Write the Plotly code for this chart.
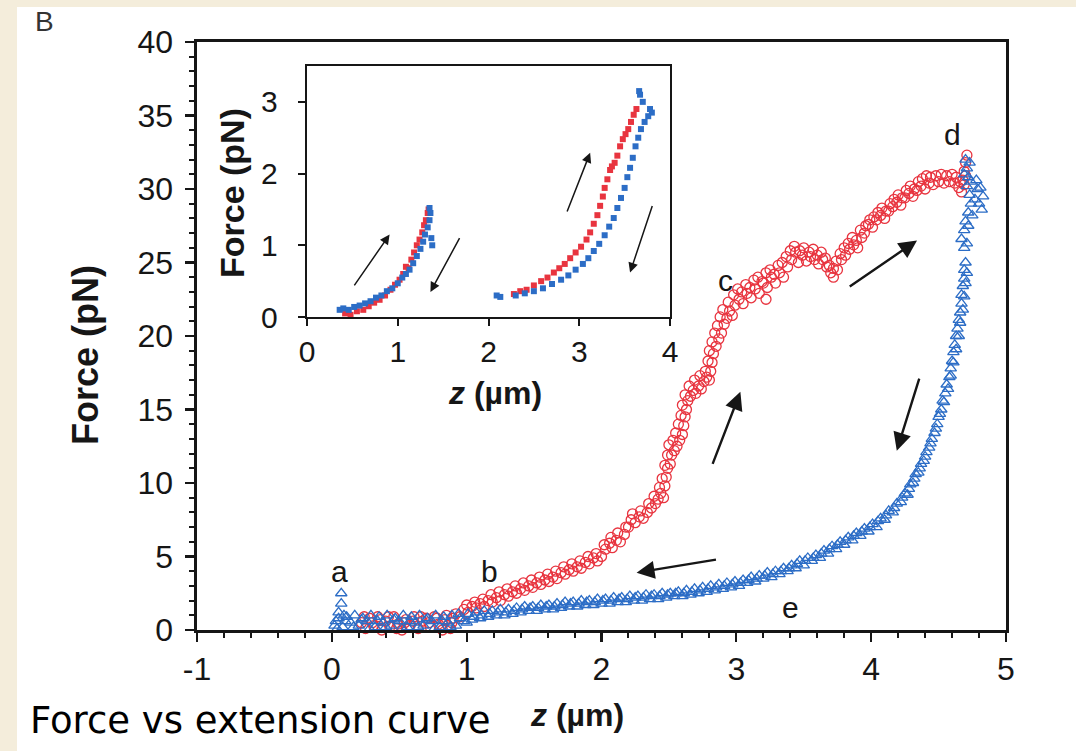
import plotly.graph_objects as go

# ---------------- data ----------------
# main panel: pulling (red circles) and relaxing (blue triangles); z (um) vs force (pN)
PULL = [(0.22,0.5),(0.25,0.1),(0.28,0.8),(0.31,0.3),(0.34,0.9),(0.37,0.0),(0.40,0.6),(0.43,0.2),(0.46,0.9),
        (0.49,0.4),(0.52,0.0),(0.55,0.7),(0.58,0.3),(0.61,0.9),(0.64,0.1),(0.67,0.6),(0.70,0.8),(0.73,0.2),
        (0.76,0.9),(0.79,0.4),(0.82,0.0),(0.84,0.7),(0.86,0.3),(0.88,0.1),(0.90,0.8),(0.92,1.1),(0.95,0.9),
        (0.98,1.4),(1.01,1.2),(1.04,1.6),(1.07,1.5),(1.10,1.8),(1.13,1.6),(1.16,2.0),(1.19,1.9),(1.22,2.2),
        (1.25,2.0),(1.28,2.4),(1.31,2.3),(1.34,2.6),(1.37,2.5),(1.40,2.8),(1.43,2.7),(1.46,3.0),(1.49,2.9),
        (1.52,3.2),(1.55,3.1),(1.58,3.4),(1.61,3.3),(1.64,3.6),(1.67,3.5),(1.70,3.9),(1.73,3.8),(1.76,4.1),
        (1.79,4.0),(1.82,4.3),(1.85,4.2),(1.88,4.6),(1.91,4.5),(1.94,4.9),(1.97,4.7),(2.00,5.0),(2.03,5.5),
        (2.06,5.9),(2.08,5.6),(2.11,6.1),(2.14,6.0),(2.17,6.5),(2.20,7.0),(2.22,7.5),(2.25,7.3),(2.28,7.7),
        (2.31,7.6),(2.34,8.0),(2.37,8.3),(2.40,8.6),(2.42,8.9),(2.44,9.3),(2.46,9.0),(2.47,9.8),(2.48,10.4),
        (2.49,11.0),(2.51,11.3),(2.52,11.9),(2.54,12.2),(2.56,12.5),(2.58,12.9),(2.60,13.3),(2.61,13.9),
        (2.62,14.5),(2.63,15.0),(2.64,15.6),(2.66,15.9),(2.68,16.3),(2.70,16.1),(2.72,16.6),(2.74,16.4),
        (2.76,16.9),(2.78,17.2),(2.80,17.0),(2.81,17.6),(2.82,18.2),(2.83,18.8),(2.85,19.3),(2.87,19.8),
        (2.89,20.2),(2.91,20.8),(2.93,21.2),(2.95,21.7),(2.97,21.4),(2.99,22.1),(3.02,22.5),(3.05,22.2),
        (3.08,22.9),(3.11,22.6),(3.14,23.2),(3.17,22.9),(3.20,23.6),(3.23,23.3),(3.22,22.5),(3.26,24.0),
        (3.29,23.6),(3.32,24.3),(3.35,24.0),(3.38,24.7),(3.41,25.2),(3.44,25.7),(3.46,25.0),(3.49,25.5),
        (3.52,25.1),(3.55,25.4),(3.58,25.2),(3.61,24.9),(3.64,25.2),(3.67,24.7),(3.70,24.3),(3.72,24.6),
        (3.74,25.1),(3.77,25.6),(3.80,26.0),(3.83,26.3),(3.86,26.7),(3.89,26.5),(3.92,27.2),(3.95,27.0),
        (3.98,27.6),(4.01,27.4),(4.04,27.9),(4.07,28.2),(4.10,28.0),(4.13,28.5),(4.16,28.8),(4.19,29.1),
        (4.22,28.9),(4.25,29.4),(4.28,29.7),(4.31,29.5),(4.34,29.9),(4.37,30.2),(4.40,30.0),(4.43,30.4),
        (4.46,30.3),(4.50,30.5),(4.54,30.4),(4.58,30.5),(4.62,30.4),(4.65,30.1),(4.67,29.8),(4.68,30.6),
        (4.69,31.2),(4.70,31.8),(4.71,32.3)]
PULL_REPEAT = [(0.24,0.9),(0.30,0.5),(0.36,0.7),(0.42,0.9),(0.48,0.1),(0.54,0.5),(0.60,0.6),(0.66,0.9),
               (0.72,0.5),(0.78,0.8),(0.85,1.0),(0.89,0.5),(1.00,1.7),(1.06,1.9),(1.12,2.1),(1.18,2.4),
               (1.24,2.6),(1.30,2.8),(1.36,3.0),(1.42,3.2),(1.48,3.4),(1.54,3.6),(1.60,3.8),(1.66,4.0),
               (1.72,4.3),(1.78,4.5),(1.84,4.7),(1.90,5.0),(1.96,5.2),(2.02,5.8),(2.07,6.3),(2.12,6.6),
               (2.18,7.0),(2.23,7.9),(2.29,8.1),(2.35,8.6),(2.39,9.1),(2.43,9.7),(2.45,10.3),(2.47,11.2),
               (2.49,11.9),(2.50,12.6),(2.53,12.9),(2.55,13.4),(2.57,14.0),(2.59,14.6),(2.60,15.3),(2.62,16.0),
               (2.65,16.6),(2.69,17.0),(2.73,17.3),(2.77,17.6),(2.79,18.3),(2.80,19.0),(2.82,19.6),(2.84,20.2),
               (2.86,20.7),(2.88,21.3),(2.90,21.8),(2.94,22.3),(2.98,22.8),(3.01,23.2),(3.04,23.0),(3.07,23.5),
               (3.10,23.3),(3.13,23.8),(3.16,24.0),(3.19,23.7),(3.22,24.3),(3.25,24.5),(3.28,24.2),(3.31,24.8),
               (3.34,25.0),(3.37,25.4),(3.40,25.8),(3.43,26.1),(3.47,25.8),(3.50,26.0),(3.54,25.7),(3.57,25.9),
               (3.60,25.5),(3.63,25.7),(3.66,25.3),(3.69,24.8),(3.72,24.0),(3.75,24.5),(3.78,25.2),(3.81,25.5),
               (3.84,25.9),(3.87,26.2),(3.90,26.0),(3.93,26.7),(3.96,27.5),(3.99,27.9),(4.02,28.1),(4.05,28.4),
               (4.08,28.7),(4.11,28.5),(4.14,29.0),(4.17,29.3),(4.20,29.6),(4.23,29.4),(4.26,29.9),(4.29,30.2),
               (4.32,30.0),(4.35,30.5),(4.38,30.7),(4.41,30.9),(4.44,30.8),(4.48,30.9),(4.52,31.0),(4.56,30.9),
               (4.60,31.0),(4.63,30.8),(4.66,30.5),(4.69,30.3),(4.70,30.9)]

RELAX = [(0.03,0.6),(0.05,1.2),(0.07,1.8),(0.07,2.5),(0.09,1.0),
         (0.02,0.3),(0.05,0.8),(0.08,0.2),(0.11,0.9),(0.14,0.5),(0.17,1.0),(0.20,0.3),(0.23,0.8),(0.26,0.6),
         (0.29,1.0),(0.32,0.2),(0.35,0.9),(0.38,0.5),(0.41,1.0),(0.44,0.3),(0.47,0.8),(0.50,0.6),(0.53,1.0),
         (0.56,0.2),(0.59,0.9),(0.62,0.5),(0.65,1.0),(0.68,0.3),(0.71,0.8),(0.74,0.6),(0.77,1.0),(0.80,0.2),
         (0.83,0.9),(0.86,0.5),(0.89,1.0),(0.92,0.3),(0.95,0.8),(0.98,0.6),(1.01,1.1),(1.04,0.7),(1.07,1.2),
         (1.10,0.8),(1.13,1.3),(1.16,0.9),(1.19,1.3),(1.22,1.0),(1.25,1.4),(1.28,1.0),(1.31,1.4),(1.34,1.1),
         (1.37,1.5),(1.40,1.2),(1.43,1.6),(1.46,1.3),(1.49,1.6),(1.52,1.3),(1.55,1.7),(1.58,1.4),(1.61,1.7),
         (1.64,1.4),(1.67,1.8),(1.70,1.5),(1.73,1.9),(1.76,1.6),(1.79,1.9),(1.82,1.6),(1.85,2.0),(1.88,1.7),
         (1.91,2.0),(1.94,1.7),(1.97,2.1),(2.00,1.8),(2.03,2.1),(2.06,1.8),(2.09,2.2),(2.12,1.9),(2.15,2.2),
         (2.18,1.9),(2.21,2.3),(2.24,2.0),(2.27,2.3),(2.30,2.0),(2.33,2.4),(2.36,2.1),(2.39,2.4),(2.42,2.1),
         (2.45,2.5),(2.48,2.2),(2.51,2.5),(2.54,2.3),(2.57,2.6),(2.60,2.3),(2.63,2.7),(2.66,2.4),(2.69,2.8),
         (2.72,2.5),(2.75,2.9),(2.78,2.6),(2.81,3.0),(2.84,2.7),(2.87,3.1),(2.90,2.8),(2.93,3.2),(2.96,2.9),
         (2.99,3.3),(3.02,3.0),(3.05,3.4),(3.08,3.2),(3.11,3.6),(3.14,3.3),(3.17,3.7),(3.20,3.5),(3.23,3.9),
         (3.26,3.6),(3.29,4.0),(3.32,3.8),(3.35,4.2),(3.38,4.0),(3.41,4.4),(3.44,4.2),(3.47,4.7),(3.50,4.4),
         (3.53,4.9),(3.56,4.7),(3.59,5.1),(3.62,4.9),(3.65,5.4),(3.68,5.2),(3.71,5.7),(3.74,5.5),(3.77,6.0),
         (3.80,5.8),(3.83,6.3),(3.86,6.1),(3.89,6.6),(3.92,6.4),(3.95,6.9),(3.98,6.7),(4.01,7.2),(4.04,7.0),
         (4.07,7.6),(4.10,7.5),(4.13,8.1),(4.16,8.0),(4.19,8.6),(4.22,8.7),(4.25,9.3),(4.27,9.2),(4.29,9.9),
         (4.31,10.0),(4.33,10.6),(4.35,10.7),(4.37,11.3),(4.39,11.5),(4.41,12.1),(4.43,12.4),(4.45,13.0),
         (4.47,13.4),(4.49,14.0),(4.50,14.5),(4.52,15.0),(4.53,15.6),(4.55,16.1),(4.56,16.7),(4.58,17.2),
         (4.59,17.8),(4.60,18.3),(4.61,18.9),(4.62,19.4),(4.63,20.0),(4.64,20.5),(4.65,21.1),(4.66,21.6),
         (4.67,22.2),(4.67,22.8),(4.68,23.4),(4.69,23.9),(4.69,24.5),(4.70,25.0),(4.69,26.0),(4.67,26.6),
         (4.69,27.2),(4.70,27.8),(4.72,28.4),(4.74,29.0),(4.73,29.6),(4.71,30.2),(4.72,30.8),(4.71,31.4),
         (4.70,32.0),(4.78,30.6),(4.81,30.1),(4.83,29.5),(4.80,29.0),(4.82,28.6)]
RELAX_REPEAT = [(0.04,0.1),(0.10,0.6),(0.16,0.2),(0.22,0.7),(0.28,0.1),(0.34,0.6),(0.40,0.2),(0.46,0.7),
                (0.52,0.1),(0.58,0.6),(0.64,0.2),(0.70,0.7),(0.76,0.1),(0.82,0.6),(0.88,0.2),(0.94,1.1),
                (1.00,0.5),(1.05,0.9),(1.11,1.0),(1.17,1.1),(1.23,1.2),(1.29,1.2),(1.35,1.3),(1.41,1.4),
                (1.47,1.5),(1.53,1.5),(1.59,1.6),(1.65,1.6),(1.71,1.7),(1.77,1.8),(1.83,1.8),(1.89,1.9),
                (1.95,1.9),(2.01,2.0),(2.07,2.0),(2.13,2.1),(2.19,2.1),(2.25,2.2),(2.31,2.2),(2.37,2.3),
                (2.43,2.3),(2.49,2.4),(2.55,2.5),(2.61,2.5),(2.67,2.6),(2.73,2.7),(2.79,2.8),(2.85,2.9),
                (2.91,3.0),(2.97,3.1),(3.03,3.2),(3.09,3.4),(3.15,3.5),(3.21,3.7),(3.27,3.8),(3.33,4.0),
                (3.39,4.2),(3.45,4.5),(3.51,4.7),(3.57,4.9),(3.63,5.2),(3.69,5.5),(3.75,5.8),(3.81,6.1),
                (3.87,6.4),(3.93,6.7),(3.99,7.0),(4.05,7.4),(4.11,7.8),(4.17,8.3),(4.23,9.0),(4.28,9.6),
                (4.32,10.3),(4.36,11.0),(4.40,11.8),(4.44,12.7),(4.48,13.7),(4.51,14.7),(4.54,15.5),(4.57,16.4),
                (4.59,17.3),(4.61,18.2),(4.63,19.1),(4.65,20.0),(4.66,20.9),(4.68,21.8),(4.69,22.7),(4.70,23.6),
                (4.71,24.3),(4.71,26.3),(4.72,27.5),(4.75,28.2),(4.77,29.3),(4.79,30.0),(4.74,30.5),(4.69,31.0),
                (4.73,31.8)]

# inset: low-force cycles
INSET_PULL = [(0.42,0.05),(0.48,0.03),(0.55,0.08),(0.62,0.10),(0.68,0.15),(0.74,0.20),(0.80,0.24),(0.86,0.30),
              (0.92,0.38),(0.97,0.45),(1.02,0.52),(1.06,0.60),(1.09,0.70),(1.12,0.68),(1.15,0.80),(1.18,0.90),
              (1.21,1.00),(1.24,1.08),(1.27,1.18),(1.29,1.28),(1.31,1.35),(1.33,1.45),(1.34,1.50),
              (2.28,0.32),(2.35,0.36),(2.42,0.38),(2.50,0.44),(2.58,0.50),(2.65,0.55),(2.72,0.62),(2.78,0.68),
              (2.84,0.74),(2.90,0.82),(2.96,0.90),(3.02,0.98),(3.08,1.08),(3.12,1.18),(3.16,1.30),(3.20,1.42),
              (3.23,1.55),(3.26,1.68),(3.28,1.80),(3.31,1.92),(3.34,2.05),(3.36,2.10),(3.39,2.15),(3.42,2.25),
              (3.45,2.38),(3.48,2.48),(3.51,2.55),(3.54,2.62),(3.57,2.72),(3.60,2.82),(3.63,2.90)]
INSET_RELAX = [(0.36,0.10),(0.40,0.12),(0.46,0.10),(0.52,0.14),(0.58,0.16),(0.64,0.19),(0.70,0.22),(0.76,0.27),
               (0.82,0.30),(0.88,0.36),(0.94,0.40),(1.00,0.47),(1.05,0.55),(1.09,0.60),(1.13,0.66),(1.17,0.75),
               (1.21,0.85),(1.25,0.95),(1.28,1.05),(1.30,1.15),(1.33,1.25),(1.35,1.35),(1.36,1.45),(1.35,1.52),
               (1.37,1.10),(1.38,1.00),
               (2.09,0.30),(2.13,0.28),(2.30,0.30),(2.40,0.33),(2.50,0.36),(2.60,0.40),(2.70,0.46),(2.80,0.52),
               (2.88,0.58),(2.96,0.66),(3.04,0.74),(3.10,0.82),(3.16,0.92),(3.22,1.02),(3.28,1.14),(3.33,1.26),
               (3.38,1.38),(3.42,1.52),(3.46,1.66),(3.50,1.80),(3.53,1.95),(3.56,2.08),(3.59,2.22),(3.62,2.38),
               (3.65,2.50),(3.68,2.62),(3.72,2.72),(3.76,2.80),(3.80,2.85),(3.78,2.90),(3.70,3.00),(3.67,3.10),
               (3.66,3.15)]

MAIN_X_TICKS = [-1, 0, 1, 2, 3, 4, 5]
MAIN_X_LABELS = ["-1", "0", "1", "2", "3", "4", "5"]
MAIN_Y_TICKS = [0, 5, 10, 15, 20, 25, 30, 35, 40]
INSET_X_TICKS = [0, 1, 2, 3, 4]
INSET_Y_TICKS = [0, 1, 2, 3]

POINT_LABELS = ["a", "b", "c", "d", "e"]
POINT_LABEL_X = [0.06, 1.17, 2.92, 4.60, 3.40]
POINT_LABEL_Y = [3.95, 3.95, 23.8, 33.7, 1.5]

# arrows: (tail x, tail y, head x, head y)
MAIN_ARROWS = [(3.83, 23.3, 4.34, 26.5), (2.82, 11.2, 3.03, 16.2),
               (2.86, 4.8, 2.26, 3.9), (4.36, 17.2, 4.19, 12.2)]
INSET_ARROWS = [(0.51, 0.42, 0.91, 1.15), (1.69, 1.12, 1.36, 0.35),
                (2.86, 1.45, 3.12, 2.29), (3.81, 1.57, 3.56, 0.62)]

# ---------------- style ----------------
RED = "#e8343f"
BLUE = "#2c6dc6"
INK = "#161616"
BEIGE = "#f4eddb"
FONT = "Liberation Sans, Arial, sans-serif"

W, H = 1076, 751
L, R, T, B = 197, 70, 42, 121
PW, PH = W - L - R, H - T - B


def px(x):
    return (x - L) / PW


def py(y):
    return (H - B - y) / PH


def xs(pts):
    return [p[0] for p in pts]


def ys(pts):
    return [p[1] for p in pts]


red_marker = dict(symbol="circle-open", size=10, color=RED, line=dict(width=1.3, color=RED))
blue_marker = dict(symbol="triangle-up-open", size=10, color=BLUE, line=dict(width=1.3, color=BLUE))

fig = go.Figure()
for pts in (PULL, PULL_REPEAT):
    fig.add_trace(go.Scatter(x=xs(pts), y=ys(pts), mode="markers", cliponaxis=False,
                             marker=red_marker, showlegend=False, hoverinfo="skip"))
for pts in (RELAX, RELAX_REPEAT):
    fig.add_trace(go.Scatter(x=xs(pts), y=ys(pts), mode="markers", cliponaxis=False,
                             marker=blue_marker, showlegend=False, hoverinfo="skip"))
fig.add_trace(go.Scatter(x=xs(INSET_PULL), y=ys(INSET_PULL), mode="markers", cliponaxis=False,
                         xaxis="x2", yaxis="y2", marker=dict(symbol="square", size=6, color=RED),
                         showlegend=False, hoverinfo="skip"))
fig.add_trace(go.Scatter(x=xs(INSET_RELAX), y=ys(INSET_RELAX), mode="markers", cliponaxis=False,
                         xaxis="x2", yaxis="y2", marker=dict(symbol="square", size=6, color=BLUE),
                         showlegend=False, hoverinfo="skip"))

annotations = []
for t, x, y in zip(POINT_LABELS, POINT_LABEL_X, POINT_LABEL_Y):
    annotations.append(dict(x=x, y=y, xref="x", yref="y", text=t, showarrow=False,
                            xanchor="center", yanchor="middle",
                            font=dict(family=FONT, size=30, color=INK)))
for tx, ty, hx, hy in MAIN_ARROWS:
    annotations.append(dict(x=hx, y=hy, ax=tx, ay=ty, xref="x", yref="y", axref="x", ayref="y",
                            text="", showarrow=True, arrowhead=2, arrowsize=1.5, arrowwidth=2.4,
                            arrowcolor=INK, standoff=0, startstandoff=0))
for tx, ty, hx, hy in INSET_ARROWS:
    annotations.append(dict(x=hx, y=hy, ax=tx, ay=ty, xref="x2", yref="y2", axref="x2", ayref="y2",
                            text="", showarrow=True, arrowhead=2, arrowsize=1.3, arrowwidth=1.5,
                            arrowcolor=INK, standoff=0, startstandoff=0))


def paper_text(x, y, text, size, family=FONT, angle=0, xanchor="center", color=INK):
    return dict(x=px(x), y=py(y), xref="paper", yref="paper", text=text, textangle=angle,
                xanchor=xanchor, yanchor="middle", showarrow=False,
                font=dict(family=family, size=size, color=color))


annotations += [
    paper_text(85, 355, "<b>Force (pN)</b>", 36, angle=-90),
    paper_text(577, 715, "<b><i>z</i> (\u00b5m)</b>", 32),
    paper_text(232, 193, "<b>Force (pN)</b>", 34, angle=-90),
    paper_text(495, 393, "<b><i>z</i> (\u00b5m)</b>", 32),
    paper_text(28, 721, "Force vs extension curve", 37, family="DejaVu Sans, Verdana, sans-serif",
               xanchor="left", color="#000"),
    paper_text(44, 22, "B", 28, color="#333"),
]

shapes = [
    dict(type="rect", xref="paper", yref="paper", x0=px(0), x1=px(17), y0=py(H), y1=py(0),
         fillcolor=BEIGE, line=dict(width=0), layer="below"),
    dict(type="rect", xref="paper", yref="paper", x0=px(0), x1=px(W), y0=py(7), y1=py(0),
         fillcolor=BEIGE, line=dict(width=0), layer="below"),
]

axis_common = dict(showgrid=False, zeroline=False, mirror=True, linecolor=INK, ticks="outside",
                   tickcolor=INK, showline=True)

fig.update_layout(
    width=W, height=H, margin=dict(l=L, r=R, t=T, b=B, pad=0),
    paper_bgcolor="white", plot_bgcolor="white",
    showlegend=False, hovermode=False,
    xaxis=dict(range=[-1, 5], tickvals=MAIN_X_TICKS, ticktext=MAIN_X_LABELS, ticklen=9, tickwidth=2.2,
               linewidth=2.6,
               minor=dict(dtick=0.2, ticklen=5, tickwidth=2, ticks="outside", tickcolor=INK),
               tickfont=dict(family=FONT, size=32, color=INK), ticklabelstandoff=0, **axis_common),
    yaxis=dict(range=[0, 40], tickvals=MAIN_Y_TICKS, ticklen=9, tickwidth=2.2, linewidth=2.6,
               minor=dict(dtick=1, ticklen=5, tickwidth=2, ticks="outside", tickcolor=INK),
               tickfont=dict(family=FONT, size=32, color=INK), ticklabelstandoff=6, **axis_common),
    xaxis2=dict(domain=[px(307), px(670)], anchor="y2", range=[0, 4], tickvals=INSET_X_TICKS,
                ticklen=7, tickwidth=2, linewidth=2.2, ticklabelstandoff=0,
                tickfont=dict(family=FONT, size=30, color=INK), **axis_common),
    yaxis2=dict(domain=[py(317), py(66)], anchor="x2", range=[0, 3.5], tickvals=INSET_Y_TICKS,
                ticklen=7, tickwidth=2, linewidth=2.2, ticklabelstandoff=14,
                tickfont=dict(family=FONT, size=30, color=INK), **axis_common),
    annotations=annotations,
    shapes=shapes,
)

fig.write_html("out.html", config={"displayModeBar": False, "staticPlot": True},
               post_script="document.body.style.margin='0px';")
